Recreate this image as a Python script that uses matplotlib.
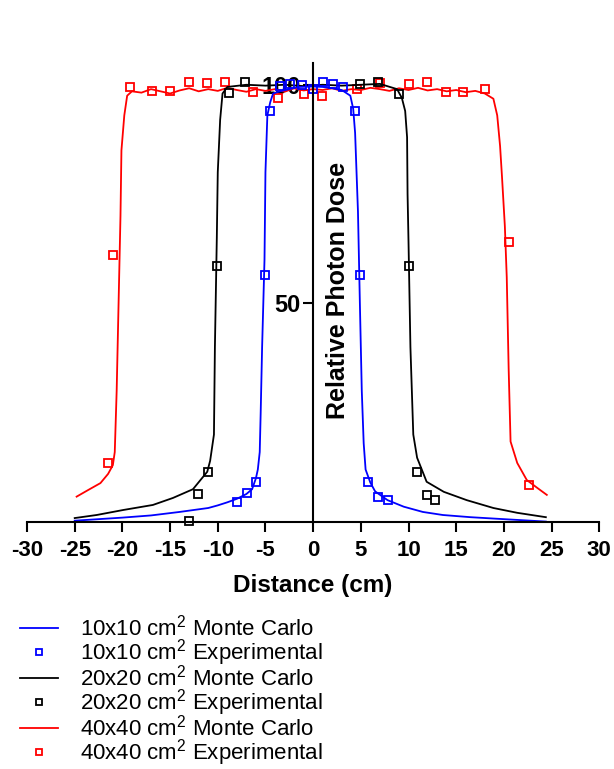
import matplotlib
matplotlib.use('Agg')
import matplotlib.pyplot as plt

plt.rcParams['font.family'] = ['Liberation Sans', 'DejaVu Sans']
plt.rcParams['mathtext.fontset'] = 'custom'
plt.rcParams['mathtext.rm'] = 'Liberation Sans'
plt.rcParams['mathtext.it'] = 'Liberation Sans:italic'
plt.rcParams['mathtext.bf'] = 'Liberation Sans:bold'
plt.rcParams['axes.unicode_minus'] = False

# Monte Carlo profiles (distance cm, relative dose)
x10_mc = [-25, -20, -17, -14, -11, -10, -9, -8, -7, -6.4, -6.0, -5.8, -5.6, -5.5, -5.35,
          -5.1, -5.0, -4.8, -4.5, -4.2, -3.5, -2.5, -1.5, 0, 1, 2, 3, 3.9, 4.2, 4.4,
          4.7, 4.9, 5.1, 5.3, 5.5, 6.0, 6.5, 7.8, 9.5, 11.5, 13.6, 16.5, 19.6, 24.4]
d10_mc = [0.3, 1.0, 1.5, 2.3, 3.2, 3.8, 4.5, 5.3, 6.4, 7.5, 10, 12, 16, 25, 40,
          60, 80, 93, 96, 98, 98.5, 99, 99.5, 99.6, 99.5, 99.2, 98.8, 97.5, 94.5, 89,
          71, 50, 30, 18, 12, 9, 7, 5, 3.5, 2.3, 1.6, 1.1, 0.7, 0.1]

x20_mc = [-25, -22.7, -19.9, -16.8, -14.7, -12.6, -11.1, -10.8, -10.4, -10.3, -10.1, -10.0,
          -9.75, -9.5, -9, -7, -5, -3, -1, 1, 3, 5, 7, 8.8, 9.3, 9.65, 9.85, 9.9,
          10.0, 10.2, 10.5, 10.9, 11.9, 13.7, 16.1, 18.9, 21.4, 24.4]
d20_mc = [0.9, 1.6, 2.75, 3.9, 5.5, 7.5, 11.5, 14, 20, 40, 65, 80,
          92, 98, 99.5, 100, 99.8, 100, 99.7, 100, 99.8, 100, 100.2, 99, 97, 94, 88, 75,
          64, 40, 20, 14.7, 9.2, 6.9, 5.0, 3.2, 2.1, 1.1]

x40_mc = [-24.8, -23.6, -22.3, -21.5, -21.0, -20.8, -20.6, -20.4, -20.2, -20.1, -19.8, -19.5,
          -19, -18, -17, -16, -15, -14, -13, -12, -11, -10, -9, -8, -7, -6, -5, -4, -3, -2,
          -1, 0, 1, 2, 3, 4, 5, 6, 7, 8, 9, 10, 11, 12, 13, 14, 15, 16, 17, 18, 18.9, 19.3,
          19.6, 19.8, 20.1, 20.3, 20.5, 20.7, 21.4, 22.4, 23.5, 24.5]
d40_mc = [5.8, 7.3, 8.9, 11, 13, 16, 30, 50, 70, 85, 93, 97.5,
          98.5, 98.2, 99, 98.5, 98, 98.7, 99.2, 98.5, 99, 98.6, 99.3, 98.8, 98.4, 99, 98.6, 99, 98.4, 99.2,
          98.7, 99, 98.8, 99.2, 98.6, 99, 98.8, 99.3, 99, 98.6, 99.2, 98.8, 99.3, 98.7, 99, 98.5, 98.8, 98.3, 98.6, 98, 96.8, 93,
          86, 79, 67.7, 56, 35, 18.4, 13.5, 9.6, 7.8, 6.2]

# Experimental points
x10_exp = [-8.0, -6.9, -6.0, -5.0, -4.5, -3.5, -2.4, -1.2, 0.0, 1.0, 2.1, 3.1, 4.4, 4.9, 5.8, 6.8, 7.8]
d10_exp = [4.6, 6.6, 9.2, 56.5, 94, 99.8, 100.2, 100, 99, 100.7, 100.2, 99.5, 94, 56.5, 9.2, 5.8, 5.0]

x20_exp = [-13.0, -12.1, -11.0, -10.1, -8.8, -7.1, 4.9, 6.8, 9.0, 10.0, 10.9, 11.9, 12.8]
d20_exp = [0.2, 6.4, 11.5, 58.5, 98.2, 100.7, 100.2, 100.7, 98, 58.5, 11.5, 6.2, 5.0]

x40_exp = [-21.5, -21.0, -19.2, -16.9, -15.0, -13.0, -11.1, -9.2, -6.3, -3.7, -1.0, 0.9,
           4.6, 7.0, 10.0, 11.9, 13.9, 15.7, 18.0, 20.5, 22.6]
d40_exp = [13.5, 61, 99.5, 98.6, 98.6, 100.7, 100.5, 100.7, 98.4, 97, 98, 97.5,
           99, 100.5, 100.2, 100.7, 98.4, 98.4, 99, 64, 8.5]

labels = [r'10x10 cm$^2$ Monte Carlo', r'10x10 cm$^2$ Experimental',
          r'20x20 cm$^2$ Monte Carlo', r'20x20 cm$^2$ Experimental',
          r'40x40 cm$^2$ Monte Carlo', r'40x40 cm$^2$ Experimental']

fig = plt.figure(figsize=(6.14, 7.69), dpi=100)
ax = fig.add_axes([0.044, 0.3212, 0.932, 0.597])

mk = dict(ls='none', marker='s', ms=6.3, mfc='none', mew=1.3, clip_on=False)

l40, = ax.plot(x40_mc, d40_mc, color='red', lw=1.3)
p40, = ax.plot(x40_exp, d40_exp, color='red', mec='red', **mk)
l20, = ax.plot(x20_mc, d20_mc, color='black', lw=1.3)
p20, = ax.plot(x20_exp, d20_exp, color='black', mec='black', **mk)
l10, = ax.plot(x10_mc, d10_mc, color='blue', lw=1.3)
p10, = ax.plot(x10_exp, d10_exp, color='blue', mec='blue', **mk)

ax.set_xlim(-30, 30)
ax.set_ylim(0, 105)
ax.spines['top'].set_visible(False)
ax.spines['right'].set_visible(False)
ax.spines['left'].set_position(('data', 0))
ax.spines['left'].set_linewidth(1.5)
ax.spines['bottom'].set_linewidth(1.5)

ax.set_xticks(range(-30, 31, 5))
ax.set_yticks([50, 100])
ax.tick_params(axis='both', direction='out', length=7, width=1.5, pad=3)
ax.tick_params(axis='x', labelsize=16, pad=6)
ax.tick_params(axis='y', labelsize=17, pad=2)
for t in ax.get_xticklabels() + ax.get_yticklabels():
    t.set_fontweight('bold')

ax.set_xlabel('Distance (cm)', fontsize=17.5, fontweight='bold', labelpad=9)
ax.text(2.6, 53, 'Relative Photon Dose', rotation=90, ha='center', va='center',
        fontsize=18, fontweight='bold')

# legend rows are packed tightly, as in the original figure
fig.legend([l10, p10, l20, p20, l40, p40], labels, loc='upper left',
           bbox_to_anchor=(0.033, 0.201), frameon=False, fontsize=16,
           handlelength=1.7, handletextpad=1.0, labelspacing=-0.15,
           borderpad=0, borderaxespad=0, markerscale=0.75)

fig.savefig('out.png', dpi=100)
